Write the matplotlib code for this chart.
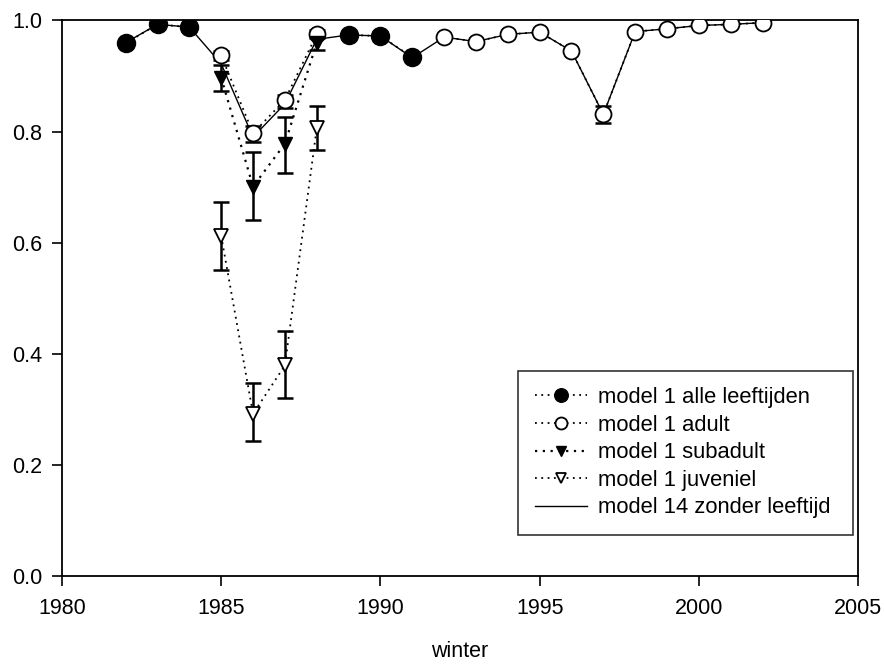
import numpy as np
import matplotlib
matplotlib.use('Agg')
import matplotlib.pyplot as plt

plt.rcParams['font.family'] = ['Liberation Sans', 'DejaVu Sans']

# model 14 zonder leeftijd (doorgetrokken lijn)
jaren_m14 = list(range(1982, 2003))
m14 = [0.960, 0.993, 0.988, 0.922, 0.790, 0.850, 0.966, 0.974, 0.972, 0.933,
       0.970, 0.962, 0.975, 0.979, 0.945, 0.831, 0.980, 0.985, 0.991, 0.993, 0.996]

# model 1 alle leeftijden
jaren_alle = [1982, 1983, 1984, 1989, 1990, 1991]
alle = [0.959, 0.993, 0.988, 0.974, 0.972, 0.934]

# model 1 adult
jaren_adult = [1985, 1986, 1987, 1988, 1992, 1993, 1994, 1995, 1996, 1997,
               1998, 1999, 2000, 2001, 2002]
adult = [0.937, 0.797, 0.857, 0.975, 0.970, 0.962, 0.975, 0.979, 0.945, 0.831,
         0.980, 0.985, 0.991, 0.993, 0.996]
adult_laag = [0.928, 0.782, 0.842, 0.968, np.nan, np.nan, np.nan, np.nan, np.nan, 0.816,
              np.nan, np.nan, np.nan, np.nan, np.nan]
adult_hoog = [0.945, 0.810, 0.866, 0.982, np.nan, np.nan, np.nan, np.nan, np.nan, 0.846,
              np.nan, np.nan, np.nan, np.nan, np.nan]

# model 1 subadult
jaren_sub = [1985, 1986, 1987, 1988]
sub = [0.897, 0.701, 0.778, 0.960]
sub_laag = [0.873, 0.640, 0.726, 0.947]
sub_hoog = [0.920, 0.764, 0.827, 0.972]

# model 1 juveniel
jaren_juv = [1985, 1986, 1987, 1988]
juv = [0.612, 0.292, 0.379, 0.806]
juv_laag = [0.551, 0.243, 0.321, 0.766]
juv_hoog = [0.674, 0.347, 0.441, 0.846]

fig = plt.figure(figsize=(8.84, 6.69), dpi=100)
ax = fig.add_axes([0.0701, 0.139, 0.9006, 0.8304])

ax.plot(jaren_m14, m14, color='black', linewidth=1.0, label='model 14 zonder leeftijd', zorder=2)

def fout(x, y, lo, hi):
    x = np.array(x, float); y = np.array(y, float)
    lo = np.array(lo, float); hi = np.array(hi, float)
    ok = ~np.isnan(lo)
    ax.errorbar(x[ok], y[ok], yerr=[y[ok] - lo[ok], hi[ok] - y[ok]], fmt='none',
                ecolor='black', elinewidth=1.8, capsize=6, capthick=1.8, zorder=3)

fout(jaren_adult, adult, adult_laag, adult_hoog)
fout(jaren_sub, sub, sub_laag, sub_hoog)
fout(jaren_juv, juv, juv_laag, juv_hoog)

stip = (0, (1, 2.5))
l_alle, = ax.plot(jaren_alle[:3], alle[:3], ls=stip, color='black', lw=1.3, marker='o',
                  ms=13, mfc='black', mec='black', zorder=4, label='model 1 alle leeftijden')
ax.plot(jaren_alle[3:], alle[3:], ls=stip, color='black', lw=1.3, marker='o',
        ms=13, mfc='black', mec='black', zorder=4)
l_adult, = ax.plot(jaren_adult[:4], adult[:4], ls=stip, color='black', lw=1.3, marker='o',
                   ms=11.5, mfc='white', mec='black', mew=1.3, zorder=4, label='model 1 adult')
ax.plot(jaren_adult[4:], adult[4:], ls=stip, color='black', lw=1.3, marker='o',
        ms=11.5, mfc='white', mec='black', mew=1.3, zorder=4)
l_sub, = ax.plot(jaren_sub, sub, ls=stip, color='black', lw=1.6, marker='v',
                 ms=10, mfc='black', mec='black', zorder=5, label='model 1 subadult')
l_juv, = ax.plot(jaren_juv, juv, ls=stip, color='black', lw=1.3, marker='v',
                 ms=10, mfc='white', mec='black', mew=1.3, zorder=5, label='model 1 juveniel')
l_m14 = ax.lines[0]

ax.set_xlim(1980, 2005)
ax.set_ylim(0, 1.0)
ax.set_xticks([1980, 1985, 1990, 1995, 2000, 2005])
ax.set_yticks([0.0, 0.2, 0.4, 0.6, 0.8, 1.0])
ax.set_yticklabels(['0.0', '0.2', '0.4', '0.6', '0.8', '1.0'])
ax.tick_params(direction='out', length=7, width=1.2, labelsize=15.5, color='black')
ax.tick_params(axis='x', pad=9)
ax.tick_params(axis='y', pad=7)
for s in ax.spines.values():
    s.set_linewidth(1.3)
ax.set_xlabel('winter', fontsize=15.5, labelpad=16)

leg = ax.legend(handles=[l_alle, l_adult, l_sub, l_juv, l_m14], loc='lower left',
                bbox_to_anchor=(0.573, 0.074, 0.421, 0.306), mode='expand',
                fontsize=15.8, frameon=True, fancybox=False, edgecolor='black',
                handlelength=2.4, markerscale=0.75, labelspacing=0.3, borderpad=0.75,
                handletextpad=0.5, borderaxespad=0)
leg.get_frame().set_linewidth(1.2)

fig.savefig('out.png', dpi=100)
